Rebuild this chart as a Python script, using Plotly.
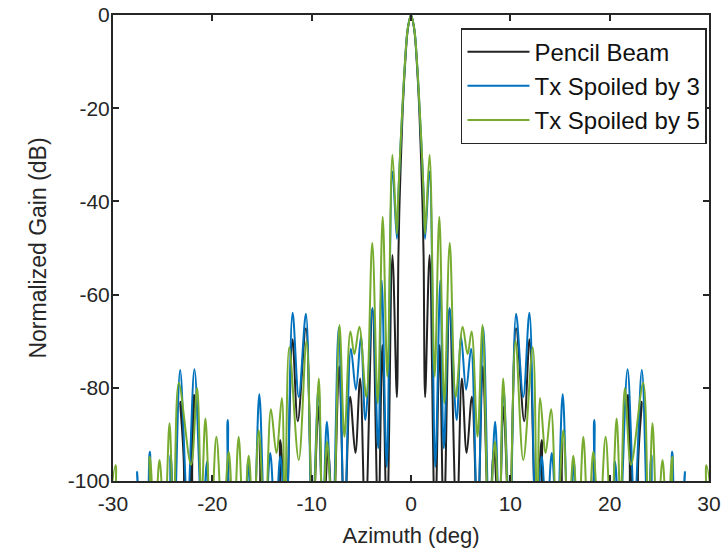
import plotly.graph_objects as go

# Positive-half readings (azimuth deg, normalized gain dB); pattern is symmetric about 0.
# Points alternate between lobe peaks and nulls; nulls below -100 dB are off-chart.
pencil_az = [0, 0.32, 0.58, 0.83, 1.0, 1.15, 1.27, 1.42, 1.87, 2.42, 2.88, 3.3, 3.88, 4.6,
             5.12, 5.6, 6.13, 6.7, 7.23, 7.85, 8.35, 8.85, 9.31, 9.9, 10.58, 11.4, 11.93,
             12.6, 13.16, 13.65, 14.7, 15.2, 15.75, 17.9, 18.4, 18.9, 21.3, 21.85, 22.5,
             23.2, 23.8, 30.5]
pencil_db = [0, -3, -10, -20, -30, -40, -52, -82, -51.5, -110, -70.8, -110, -63, -110,
             -78, -94, -81.9, -110, -75.4, -110, -93.3, -110, -84, -110, -67.2, -87.2, -69.6,
             -110, -91.2, -110, -110, -91.2, -110, -110, -95, -110, -110, -81.5, -110,
             -83, -110, -110]

spoil3_az = [0, 0.33, 0.6, 0.86, 1.1, 1.3, 1.42, 1.87, 2.44, 2.95, 3.3, 3.88, 4.6, 5.04,
             5.55, 6.05, 6.7, 7.28, 7.9, 8.47, 8.9, 9.31, 9.95, 10.58, 11.3, 11.92, 12.6,
             13.16, 13.65, 14.17, 14.7, 15.27, 15.85, 16.4, 16.9, 17.9, 18.45, 19.0, 20.0,
             20.53, 21.0, 21.8, 22.5, 23.24, 23.85, 24.2, 24.7, 25.8, 26.29, 26.8, 27.2,
             27.56, 27.9, 30.5]
spoil3_db = [0, -3, -10, -20, -30, -40, -48, -33.6, -97, -56.9, -93, -62.9, -86.9, -69,
             -80.4, -71.6, -110, -67.1, -110, -87.3, -110, -79.7, -110, -64.1, -82, -63.9, -110,
             -94.7, -110, -94, -110, -81.4, -110, -96.2, -110, -110, -86.9, -110, -110,
             -95.8, -110, -76, -105, -76.2, -110, -94.4, -110, -110, -93.7, -110, -110,
             -98, -110, -110]

spoil5_az = [0, 0.33, 0.6, 0.87, 1.1, 1.3, 1.42, 1.87, 2.38, 2.85, 3.35, 3.9, 4.5, 5.2,
             5.7, 6.1, 6.7, 7.2, 7.85, 8.45, 8.9, 9.28, 9.9, 10.52, 11.3, 12.26, 12.7,
             13.0, 13.55, 14.1, 14.7, 15.33, 15.85, 16.34, 16.85, 17.35, 17.85, 18.35,
             18.95, 19.59, 20.15, 20.7, 21.1, 21.53, 22.15, 23.38, 23.9, 24.31, 24.8,
             25.32, 25.8, 26.3, 26.8, 29.2, 29.74, 30.5]
spoil5_db = [0, -3, -10, -20, -30, -40, -47, -30, -77.6, -43.3, -83.3, -48.9, -82, -66.9,
             -72.8, -67.9, -90.5, -66.5, -110, -91.5, -110, -78, -110, -69.9, -95.5, -71.3, -110,
             -82.2, -94, -84.6, -110, -89.1, -110, -94.6, -110, -90.5, -110, -93.7,
             -110, -90.5, -110, -86.6, -105, -80.1, -96.5, -78.9, -110, -87.6, -110,
             -95.5, -110, -94.8, -110, -110, -96.6, -110]

series_names = ["Pencil Beam", "Tx Spoiled by 3", "Tx Spoiled by 5"]
series_colors = ["#222222", "#0072BD", "#77AC30"]

x_ticks = [-30, -20, -10, 0, 10, 20, 30]
x_labels = ["-30", "-20", "-10", "0", "10", "20", "30"]
y_ticks = [-100, -80, -60, -40, -20, 0]
y_labels = ["-100", "-80", "-60", "-40", "-20", "0"]


def mirror(az, db):
    xs = [-a for a in reversed(az[1:])] + list(az)
    ys = list(reversed(db[1:])) + list(db)
    return xs, ys


fig = go.Figure()
for (az, db), name, col in zip([(pencil_az, pencil_db), (spoil3_az, spoil3_db),
                                (spoil5_az, spoil5_db)], series_names, series_colors):
    xs, ys = mirror(az, db)
    fig.add_trace(go.Scatter(x=xs, y=ys, mode="lines", name=name,
                             line=dict(color=col, width=2, shape="spline", smoothing=1.0)))

font_family = "Liberation Sans, Arial, sans-serif"
axis_col = "#262626"
common = dict(showline=True, linewidth=2, linecolor=axis_col, mirror="ticks",
              ticks="inside", ticklen=6, tickwidth=2, tickcolor=axis_col,
              showgrid=False, zeroline=False, automargin=False,
              tickfont=dict(family=font_family, size=21, color=axis_col))

fig.update_xaxes(range=[-30, 30], tickvals=x_ticks, ticktext=x_labels, **common,
                 ticklabelstandoff=3,
                 title=dict(text="Azimuth (deg)", font=dict(family=font_family, size=22, color=axis_col),
                            standoff=16))
fig.update_yaxes(range=[-100, 0], tickvals=y_ticks, ticktext=y_labels, **common,
                 ticklabelstandoff=-3,
                 title=dict(text="Normalized Gain (dB)", font=dict(family=font_family, size=23, color=axis_col),
                            standoff=15))

fig.update_layout(
    width=728, height=548,
    margin=dict(l=113, r=19, t=15, b=67, autoexpand=False),
    paper_bgcolor="white", plot_bgcolor="white",
    showlegend=True,
    legend=dict(x=0.9966, y=0.972, xanchor="right", yanchor="top",
                bgcolor="white", bordercolor=axis_col, borderwidth=1.5,
                font=dict(family=font_family, size=24, color="#111111"),
                itemwidth=62, tracegroupgap=0),
)

fig.write_html("out.html")
